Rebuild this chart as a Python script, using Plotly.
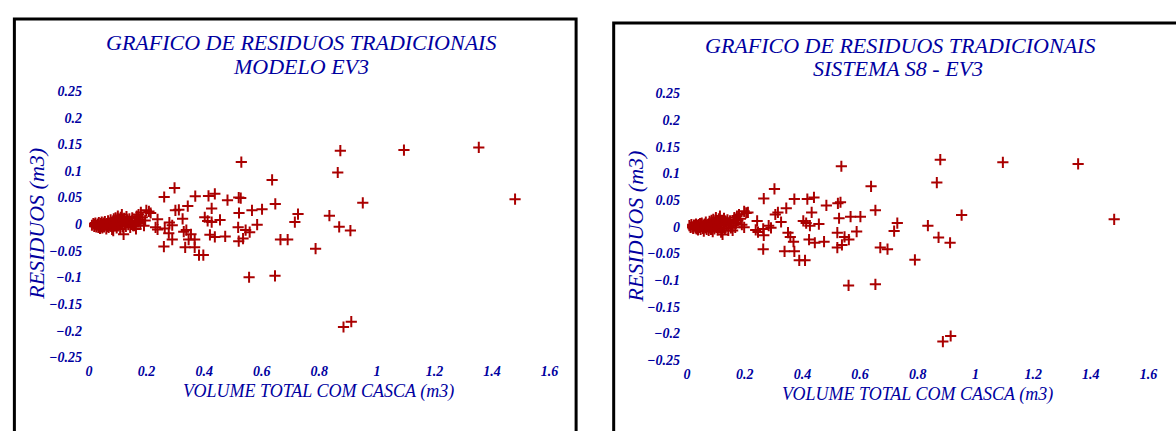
import plotly.graph_objects as go

# ---------------- data ----------------
vol_modelo = [
    0.010, 0.015, 0.018, 0.020, 0.022, 0.025, 0.027, 0.030, 0.032, 0.034, 0.036, 0.038, 0.040, 0.042,
    0.044, 0.046, 0.048, 0.050, 0.052, 0.055, 0.057, 0.060, 0.062, 0.064, 0.066, 0.068, 0.070, 0.072,
    0.075, 0.077, 0.080, 0.082, 0.084, 0.086, 0.088, 0.090, 0.092, 0.094, 0.096, 0.098, 0.100, 0.102,
    0.104, 0.106, 0.108, 0.110, 0.112, 0.114, 0.116, 0.118, 0.120, 0.122, 0.125, 0.128, 0.130, 0.133,
    0.136, 0.138, 0.140, 0.143, 0.146, 0.150, 0.153, 0.157, 0.160, 0.163, 0.166, 0.170, 0.172, 0.175,
    0.178, 0.180, 0.185, 0.191, 0.195, 0.199, 0.208, 0.214,
    0.231, 0.238, 0.238, 0.260, 0.261, 0.263, 0.277, 0.279, 0.289, 0.289, 0.297, 0.300, 0.312, 0.325,
    0.329, 0.338, 0.343, 0.334, 0.346, 0.354, 0.367, 0.369, 0.367, 0.382, 0.397, 0.402, 0.412, 0.415,
    0.420, 0.426, 0.426, 0.437, 0.437, 0.455, 0.473, 0.481, 0.518, 0.520, 0.520, 0.521, 0.527, 0.529,
    0.535, 0.544, 0.556, 0.558, 0.566, 0.584, 0.601, 0.636, 0.646, 0.647, 0.665, 0.690, 0.715, 0.726,
    0.787, 0.835, 0.864, 0.869, 0.873, 0.884, 0.908, 0.911, 0.951, 1.094, 1.354, 1.480,
]
res_modelo = [
    -0.002, 0.001, -0.004, -0.001, 0.002, -0.005, -0.002, 0.000, -0.006, 0.003, -0.003, -0.008, 0.001, -0.004,
    0.004, -0.007, -0.001, 0.002, -0.005, 0.005, -0.002, -0.009, 0.001, -0.004, 0.006, -0.006, 0.002, -0.001,
    0.008, -0.004, -0.010, 0.004, -0.012, 0.010, 0.001, -0.003, 0.012, 0.006, -0.007, 0.003, 0.015, -0.002,
    0.009, 0.005, -0.009, 0.013, 0.001, 0.018, -0.005, 0.007, -0.019, 0.011, 0.003, -0.004, 0.014, 0.008,
    -0.001, 0.005, 0.010, -0.006, 0.002, 0.012, -0.003, -0.003, 0.006, -0.009, 0.015, 0.004, 0.018, 0.009,
    0.001, 0.022, 0.013, -0.003, 0.007, 0.026, 0.024, 0.021,
    -0.006, -0.010, 0.009, -0.042, 0.051, -0.008, -0.017, 0.003, -0.002, -0.029, 0.068, 0.026, 0.027, 0.010,
    -0.014, -0.011, 0.034, -0.0435, -0.029, -0.019, -0.029, 0.0525, -0.0435, -0.058, -0.058, 0.013, 0.006, 0.053,
    -0.020, 0.004, 0.0295, 0.057, -0.024, 0.008, -0.023, 0.045, -0.006, -0.032, 0.050, 0.021, 0.049, 0.1165,
    -0.027, -0.011, -0.0996, -0.015, 0.026, -0.001, 0.028, 0.083, -0.097, 0.038, -0.029, -0.029, 0.004, 0.019,
    -0.046, 0.016, 0.097, -0.005, 0.138, -0.193, -0.012, -0.183, 0.040, 0.139, 0.144, 0.047,
]

vol_sistema = [
    0.008, 0.012, 0.015, 0.018, 0.021, 0.024, 0.026, 0.029, 0.031, 0.033, 0.035, 0.038, 0.040, 0.042,
    0.045, 0.047, 0.049, 0.051, 0.054, 0.056, 0.058, 0.061, 0.063, 0.065, 0.068, 0.070, 0.073, 0.075,
    0.078, 0.080, 0.083, 0.085, 0.087, 0.089, 0.091, 0.093, 0.095, 0.098, 0.100, 0.102, 0.104, 0.106,
    0.108, 0.110, 0.112, 0.114, 0.116, 0.118, 0.121, 0.123, 0.125, 0.128, 0.131, 0.134, 0.137, 0.140,
    0.143, 0.146, 0.149, 0.152, 0.155, 0.158, 0.161, 0.164, 0.167, 0.170, 0.173, 0.176, 0.185, 0.190,
    0.205,
    0.180, 0.198, 0.198, 0.211, 0.238, 0.243, 0.246, 0.264, 0.264, 0.266, 0.266, 0.283, 0.291, 0.303,
    0.306, 0.315, 0.326, 0.344, 0.350, 0.338, 0.358, 0.369, 0.372, 0.372, 0.389, 0.409, 0.403, 0.413,
    0.417, 0.423, 0.426, 0.432, 0.440, 0.443, 0.457, 0.475, 0.483, 0.521, 0.521, 0.523, 0.527, 0.532,
    0.535, 0.537, 0.546, 0.560, 0.561, 0.567, 0.588, 0.601, 0.638, 0.653, 0.653, 0.670, 0.695, 0.718,
    0.729, 0.790, 0.835, 0.866, 0.872, 0.878, 0.887, 0.912, 0.914, 0.952, 1.095, 1.356, 1.481,
]
res_sistema = [
    0.002, -0.001, 0.004, 0.000, -0.003, 0.003, 0.001, -0.002, 0.005, -0.004, 0.002, -0.006, 0.004, -0.001,
    0.006, -0.005, 0.001, 0.007, -0.003, 0.003, -0.008, 0.005, -0.002, 0.009, -0.005, 0.001, 0.004, -0.007,
    0.010, -0.002, -0.005, 0.012, 0.003, -0.009, 0.014, 0.006, -0.004, 0.009, 0.017, 0.001, 0.011, -0.006,
    0.005, 0.015, -0.002, 0.020, 0.008, -0.010, 0.012, -0.0145, 0.004, 0.016, -0.003, 0.010, 0.002, 0.013,
    -0.007, 0.006, 0.011, -0.002, 0.003, -0.007, 0.009, 0.017, -0.001, 0.007, 0.020, 0.012, 0.015, 0.004,
    0.026,
    0.023, 0.029, -0.001, 0.027, -0.006, 0.011, -0.010, -0.042, -0.004, 0.053, -0.016, 0.002, -0.002, 0.071,
    0.023, 0.027, 0.009, 0.035, -0.011, -0.046, -0.019, -0.028, 0.052, -0.046, -0.063, -0.063, 0.011, 0.007,
    0.052, -0.024, 0.002, 0.027, 0.055, -0.030, 0.005, -0.028, 0.040, -0.011, -0.039, 0.044, 0.016, 0.046,
    0.1136, -0.034, -0.019, -0.110, -0.024, 0.019, -0.009, 0.019, 0.076, 0.031, -0.108, -0.039, -0.042, -0.008,
    0.007, -0.062, 0.002, 0.083, -0.020, 0.126, -0.2155, -0.030, -0.205, 0.022, 0.121, 0.118, 0.014,
]

x_ticks = [0, 0.2, 0.4, 0.6, 0.8, 1.0, 1.2, 1.4, 1.6]
x_tick_labels = ["0", "0.2", "0.4", "0.6", "0.8", "1", "1.2", "1.4", "1.6"]
y_ticks = [0.25, 0.2, 0.15, 0.1, 0.05, 0, -0.05, -0.1, -0.15, -0.2, -0.25]
y_tick_labels = ["0.25", "0.2", "0.15", "0.1", "0.05", "0", "\u22120.05", "\u22120.1", "\u22120.15",
                 "\u22120.2", "\u22120.25"]

titles_left = ["GRAFICO DE RESIDUOS TRADICIONAIS", "MODELO EV3"]
titles_right = ["GRAFICO DE RESIDUOS TRADICIONAIS", "SISTEMA S8 - EV3"]
x_title = "VOLUME TOTAL COM CASCA (m3)"
y_title = "RESIDUOS (m3)"

# ---------------- styling ----------------
W, H = 1176, 431
BLUE = "rgb(0,0,160)"
RED = "rgb(170,0,0)"
FAM = "Liberation Serif, Times New Roman, serif"


def px(x):
    return x / W


def py(y):
    return 1 - y / H


marker = dict(symbol="cross-thin", size=8, line=dict(width=2, color=RED), color=RED)

fig = go.Figure()
fig.add_trace(go.Scatter(x=vol_modelo, y=res_modelo, mode="markers", marker=marker,
                         xaxis="x", yaxis="y", showlegend=False, hoverinfo="x+y"))
fig.add_trace(go.Scatter(x=vol_sistema, y=res_sistema, mode="markers", marker=marker,
                         xaxis="x2", yaxis="y2", showlegend=False, hoverinfo="x+y"))

tickfont = dict(family=FAM, size=14, color=BLUE, weight="bold", style="italic")
common_x = dict(range=[0, 1.6], tickvals=x_ticks, ticktext=x_tick_labels, showgrid=False,
                zeroline=False, showline=False, ticks="", tickfont=tickfont, ticklabelstandoff=4,
                fixedrange=True)
common_y = dict(range=[-0.25, 0.25], tickvals=y_ticks, ticktext=y_tick_labels, showgrid=False,
                zeroline=False, showline=False, ticks="", tickfont=tickfont, ticklabelstandoff=6,
                fixedrange=True)

fig.update_layout(
    width=W, height=H, autosize=False,
    margin=dict(l=0, r=0, t=0, b=0, pad=0),
    paper_bgcolor="white", plot_bgcolor="white",
    xaxis=dict(domain=[px(86), px(551.7)], anchor="y", **common_x),
    yaxis=dict(domain=[py(363), py(87)], anchor="x", **common_y),
    xaxis2=dict(domain=[px(690.7), px(1157.3)], anchor="y2", **common_x),
    yaxis2=dict(domain=[py(365.7), py(89.7)], anchor="x2", **common_y),
)

title_font = dict(family=FAM, size=22, color=BLUE, style="italic")
axis_font = dict(family=FAM, size=18, color=BLUE, style="italic")
yaxis_font = dict(family=FAM, size=22, color=BLUE, style="italic")

annotations = []


def ann(text, x, y, font, angle=0):
    annotations.append(dict(text=text, x=px(x), y=py(y), xref="paper", yref="paper",
                            xanchor="center", yanchor="middle", showarrow=False,
                            font=font, textangle=angle))


ann(titles_left[0], 300, 36.5, title_font)
ann(titles_left[1], 300, 62, title_font)
ann(titles_right[0], 906, 39.5, title_font)
ann(titles_right[1], 904, 64, title_font)
ann(x_title, 318.5, 398, axis_font)
ann(x_title, 924, 401, axis_font)
ann(y_title, 33, 225, yaxis_font, -90)
ann(y_title, 639, 227.5, yaxis_font, -90)

fig.update_layout(annotations=annotations)

# panel borders
shapes = [
    dict(type="path", xref="paper", yref="paper",
         path=f"M {px(10.5)},{py(440)} L {px(10.5)},{py(12.5)} L {px(578.5)},{py(12.5)} L {px(578.5)},{py(440)}",
         line=dict(color="black", width=3)),
    dict(type="path", xref="paper", yref="paper",
         path=f"M {px(616.5)},{py(440)} L {px(616.5)},{py(16.5)} L {px(1190)},{py(16.5)}",
         line=dict(color="black", width=3)),
]
fig.update_layout(shapes=shapes)

fig.write_html("out.html")
